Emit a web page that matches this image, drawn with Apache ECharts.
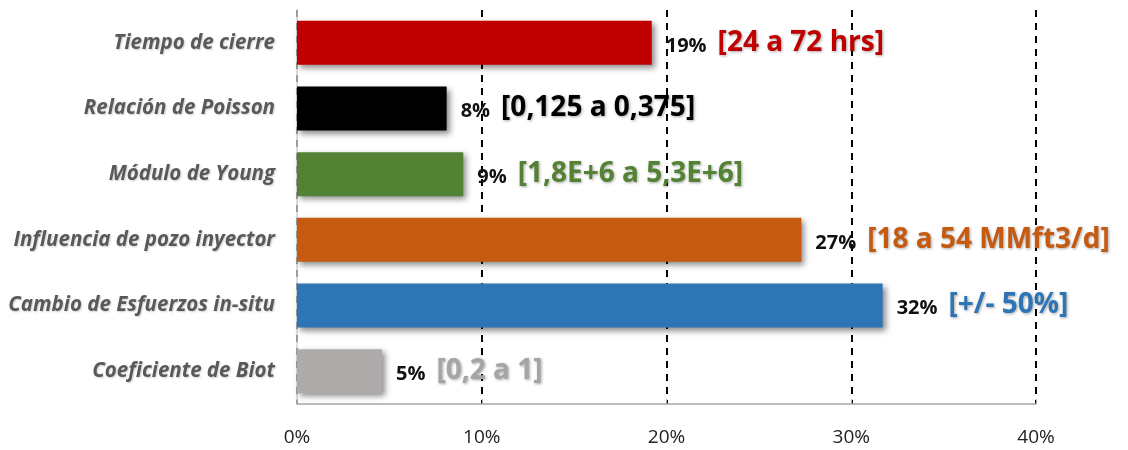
<!DOCTYPE html>
<html><head><meta charset="utf-8">
<script src="https://cdn.jsdelivr.net/npm/echarts@6/dist/echarts.min.js"></script>
<style>html,body{margin:0;padding:0;background:#fff}#c{width:1128px;height:450px}</style>
</head><body><div id="c"></div>
<script>
const categories = ['Tiempo de cierre','Relación de Poisson','Módulo de Young','Influencia de pozo inyector','Cambio de Esfuerzos in-situ','Coeficiente de Biot'];
const values = [19.2, 8.1, 9.0, 27.3, 31.7, 4.6];
const valueLabels = ['19%','8%','9%','27%','32%','5%'];
const ranges = ['[24 a 72 hrs]','[0,125 a 0,375]','[1,8E+6 a 5,3E+6]','[18 a 54 MMft3/d]','[+/- 50%]','[0,2 a 1]'];
const colors = ['#C00000','#000000','#548235','#C55A11','#2E75B6','#AFABAB'];
const rangeColors = ['#C00000','#000000','#548235','#C55A11','#2E75B6','#A5A5A5'];
const xTicks = [0,10,20,30,40];

const font = '"Open Sans", Lato, sans-serif';
const data = values.map((v,i)=>({
  value: v,
  itemStyle:{color:colors[i]},
  label:{
    rich:{
      v:{fontFamily:font,fontSize:20,color:'#111',fontWeight:'bold',padding:[6,11,0,0]},
      r:{fontFamily:font,fontSize:28,fontWeight:'bold',color:rangeColors[i],
         textShadowColor:'rgba(0,0,0,0.35)',textShadowBlur:3,textShadowOffsetX:1,textShadowOffsetY:1}
    }
  }
}));
const chart = echarts.init(document.getElementById('c'));
chart.setOption({
  animation:false,
  grid:{left:297,right:92,top:10,bottom:46,containLabel:false},
  xAxis:{type:'value',min:0,max:40,interval:10,
    axisLine:{show:true,lineStyle:{color:'#A6A6A6',width:1.5}},
    axisTick:{show:true,inside:true,length:5,lineStyle:{color:'#A6A6A6'}},
    axisLabel:{formatter:v=>v+'%',fontFamily:font,fontSize:19,color:'#222',margin:24},
    splitLine:{show:true,lineStyle:{color:'#000',type:[7,6],width:2}}
  },
  yAxis:{type:'category',data:categories,inverse:true,
    axisLine:{show:true,lineStyle:{color:'#D0D0D0',width:1.5}},
    axisTick:{show:false},
    axisLabel:{fontFamily:font,fontSize:20.5,fontStyle:'italic',fontWeight:'bold',color:'#595959',margin:22,
      textShadowColor:'rgba(0,0,0,0.2)',textShadowBlur:2,textShadowOffsetX:1,textShadowOffsetY:1}
  },
  series:[{type:'bar',data:data,barWidth:44,
    itemStyle:{shadowColor:'rgba(0,0,0,0.45)',shadowBlur:6,shadowOffsetX:3,shadowOffsetY:3},
    label:{show:true,position:'right',distance:14,
      formatter:p=>'{v|'+valueLabels[p.dataIndex]+'}{r|'+ranges[p.dataIndex]+'}'}
  }]
});
</script></body></html>
